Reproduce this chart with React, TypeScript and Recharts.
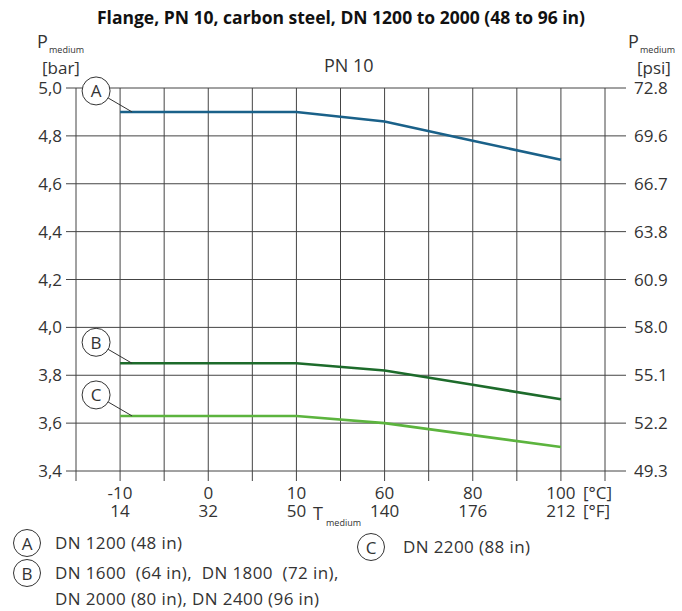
import React from "react";
import {
  LineChart,
  Line,
  XAxis,
  YAxis,
  CartesianGrid,
  ReferenceDot,
} from "recharts";

// Temperature categories (equally spaced on the chart)
const tempC = ["-10", "0", "10", "60", "80", "100"];
const tempF = ["14", "32", "50", "140", "176", "212"];

// Max. pressure [bar] per nominal size group
const dnA = [4.9, 4.9, 4.9, 4.86, 4.78, 4.7];
const dnB = [3.85, 3.85, 3.85, 3.82, 3.76, 3.7];
const dnC = [3.63, 3.63, 3.63, 3.6, 3.55, 3.5];

const barTicks = [3.4, 3.6, 3.8, 4.0, 4.2, 4.4, 4.6, 4.8, 5.0];
const psiLabels = ["49.3", "52.2", "55.1", "58.0", "60.9", "63.8", "66.7", "69.6", "72.8"];

const xGridTicks = [0.5, 1, 1.5, 2, 2.5, 3, 3.5, 4, 4.5, 5, 5.5, 6, 6.5];

const data = tempC.map((c, k) => ({
  i: k + 1,
  c,
  f: tempF[k],
  A: dnA[k],
  B: dnB[k],
  C: dnC[k],
}));

const FONT = "'Open Sans', sans-serif";
const TEXT = "#333";
const GRID = "#444";

const COLOR = {
  A: "#1a6189",
  B: "#1d6b2b",
  C: "#5cb43e",
};

function XTick(props: any) {
  const { x, y, payload } = props;
  const v = payload.value;
  if (!Number.isInteger(v)) return null;
  const k = v - 1;
  const last = k === tempC.length - 1;
  return (
    <g fontFamily={FONT} fontSize={17} fill={TEXT}>
      <text x={x} y={y + 9} textAnchor="middle" dominantBaseline="central">
        {tempC[k]}
      </text>
      <text x={x} y={y + 27} textAnchor="middle" dominantBaseline="central">
        {tempF[k]}
      </text>
      {last && (
        <>
          <text x={x + 22} y={y + 9} dominantBaseline="central">
            [°C]
          </text>
          <text x={x + 22} y={y + 27} dominantBaseline="central">
            [°F]
          </text>
        </>
      )}
    </g>
  );
}

function Marker(letter: string) {
  return (props: any) => {
    const { cx, cy } = props;
    return (
      <g>
        <line x1={cx + 12} y1={cy} x2={cx - 12} y2={cy - 14} stroke={TEXT} strokeWidth={1} />
        <circle cx={cx - 24} cy={cy - 21} r={14} fill="#fff" stroke={TEXT} strokeWidth={1} />
        <text
          x={cx - 24}
          y={cy - 21}
          textAnchor="middle"
          dominantBaseline="central"
          fontFamily={FONT}
          fontSize={17}
          fill={TEXT}
        >
          {letter}
        </text>
      </g>
    );
  };
}

function LegendMark({ letter }: { letter: string }) {
  return (
    <svg width={30} height={30} style={{ display: "block" }}>
      <circle cx={15} cy={15} r={13.5} fill="#fff" stroke={TEXT} strokeWidth={1} />
      <text
        x={15}
        y={15}
        textAnchor="middle"
        dominantBaseline="central"
        fontFamily={FONT}
        fontSize={17}
        fill={TEXT}
      >
        {letter}
      </text>
    </svg>
  );
}

const abs = (x: number, y: number, extra: React.CSSProperties = {}): React.CSSProperties => ({
  position: "absolute",
  left: x,
  top: y,
  whiteSpace: "pre",
  lineHeight: 1,
  ...extra,
});

const legendText: React.CSSProperties = { fontSize: 17, letterSpacing: 0.4 };

export default function App() {
  return (
    <div
      style={{
        position: "absolute",
        left: 0,
        top: 0,
        width: 682,
        height: 611,
        background: "#fff",
        fontFamily: FONT,
        color: TEXT,
      }}
    >
      <LineChart
        width={682}
        height={611}
        data={data}
        margin={{ top: 88, right: 0, bottom: 0, left: 0 }}
      >
        <CartesianGrid yAxisId="l" stroke={GRID} strokeWidth={1} />
        <XAxis
          dataKey="i"
          type="number"
          domain={[0.5, 6.5]}
          ticks={xGridTicks}
          interval={0}
          height={140}
          tickSize={10}
          tickLine={{ stroke: GRID }}
          axisLine={false}
          tick={<XTick />}
        />
        <YAxis
          yAxisId="l"
          domain={[3.4, 5.0]}
          ticks={barTicks}
          interval={0}
          width={76}
          tickSize={10}
          tickMargin={4}
          tickLine={{ stroke: GRID }}
          axisLine={false}
          tick={{ fontFamily: FONT, fontSize: 17, fill: TEXT }}
          tickFormatter={(v: number) => v.toFixed(1).replace(".", ",")}
        />
        <YAxis
          yAxisId="r"
          orientation="right"
          domain={[3.4, 5.0]}
          ticks={barTicks}
          interval={0}
          width={77}
          tickSize={21}
          tickMargin={8}
          tickLine={{ stroke: GRID }}
          axisLine={false}
          tick={{ fontFamily: FONT, fontSize: 17, fill: TEXT }}
          tickFormatter={(v: number) => psiLabels[barTicks.findIndex((t) => Math.abs(t - v) < 1e-6)] ?? ""}
        />
        <Line yAxisId="l" type="linear" dataKey="A" stroke={COLOR.A} strokeWidth={2.6} dot={false} isAnimationActive={false} />
        <Line yAxisId="l" type="linear" dataKey="B" stroke={COLOR.B} strokeWidth={2.6} dot={false} isAnimationActive={false} />
        <Line yAxisId="r" type="linear" dataKey="C" stroke={COLOR.C} strokeWidth={2.6} dot={false} isAnimationActive={false} />
        <ReferenceDot yAxisId="l" x={1} y={dnA[0]} shape={Marker("A")} />
        <ReferenceDot yAxisId="l" x={1} y={dnB[0]} shape={Marker("B")} />
        <ReferenceDot yAxisId="l" x={1} y={dnC[0]} shape={Marker("C")} />
      </LineChart>

      <div style={abs(0, 9, { width: 682, textAlign: "center", fontWeight: 700, fontSize: 17.5, color: "#111" })}>
        Flange, PN 10, carbon steel, DN 1200 to 2000 (48 to 96 in)
      </div>
      <div style={abs(324, 56, { fontSize: 18 })}>PN 10</div>

      <div style={abs(37, 32, { fontSize: 18 })}>P</div>
      <div style={abs(49, 45, { fontSize: 9 })}>medium</div>
      <div style={abs(42, 59, { fontSize: 17 })}>[bar]</div>

      <div style={abs(628, 32, { fontSize: 18 })}>P</div>
      <div style={abs(640, 45, { fontSize: 9 })}>medium</div>
      <div style={abs(637, 59, { fontSize: 17 })}>[psi]</div>

      <div style={abs(313, 504, { fontSize: 18 })}>T</div>
      <div style={abs(326, 518, { fontSize: 9 })}>medium</div>

      <div style={abs(12, 528)}>
        <LegendMark letter="A" />
      </div>
      <div style={abs(55, 534, legendText)}>DN 1200 (48 in)</div>
      <div style={abs(12, 558)}>
        <LegendMark letter="B" />
      </div>
      <div style={abs(55, 564, legendText)}>DN 1600  (64 in),  DN 1800  (72 in),</div>
      <div style={abs(55, 590, legendText)}>DN 2000 (80 in), DN 2400 (96 in)</div>
      <div style={abs(356, 532)}>
        <LegendMark letter="C" />
      </div>
      <div style={abs(403, 538, legendText)}>DN 2200 (88 in)</div>
    </div>
  );
}
